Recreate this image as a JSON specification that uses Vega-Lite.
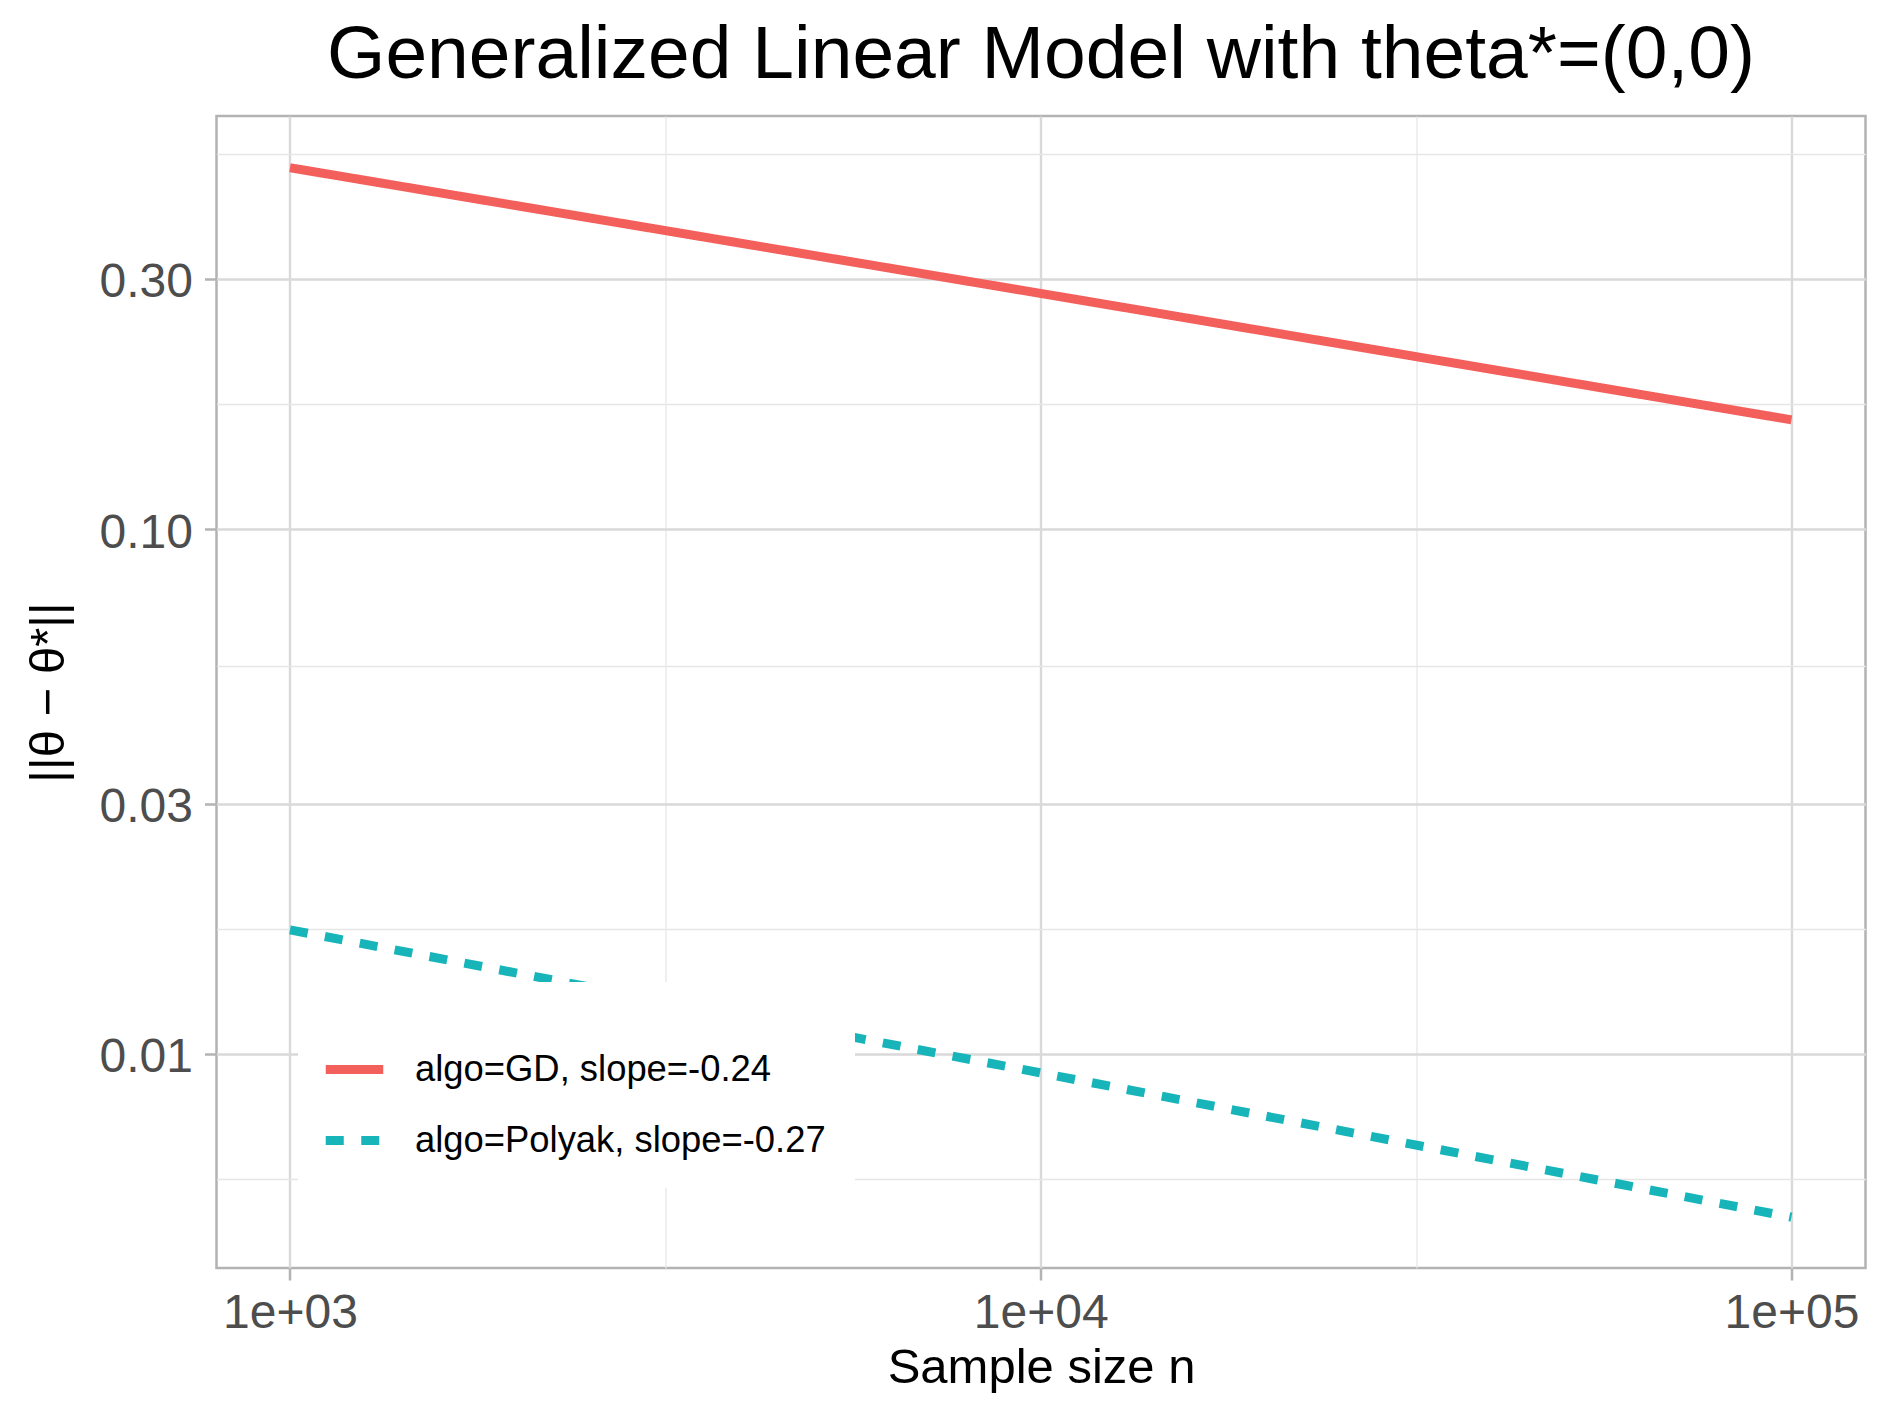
{
  "$schema": "https://vega.github.io/schema/vega-lite/v6.json",
  "width": 1649,
  "height": 1152,
  "autosize": "none",
  "padding": {"left": 216.5, "top": 116, "right": 23.5, "bottom": 149},
  "background": "white",
  "title": {
    "text": "Generalized Linear Model with theta*=(0,0)",
    "font": "Liberation Sans",
    "fontSize": 75,
    "fontWeight": "normal",
    "color": "black",
    "anchor": "middle",
    "frame": "group",
    "baseline": "alphabetic",
    "offset": 38,
    "dy": 75
  },
  "data": {
    "values": [
      {"n": 1000, "err": 0.4881, "algo": "algo=GD, slope=-0.24"},
      {"n": 10000, "err": 0.2812, "algo": "algo=GD, slope=-0.24"},
      {"n": 100000, "err": 0.1615, "algo": "algo=GD, slope=-0.24"},
      {"n": 1000, "err": 0.01723, "algo": "algo=Polyak, slope=-0.27"},
      {"n": 10000, "err": 0.0092, "algo": "algo=Polyak, slope=-0.27"},
      {"n": 100000, "err": 0.004885, "algo": "algo=Polyak, slope=-0.27"}
    ]
  },
  "mark": {"type": "line", "strokeWidth": 9, "strokeCap": "butt"},
  "encoding": {
    "x": {
      "field": "n",
      "type": "quantitative",
      "scale": {"type": "log", "domain": [798.2, 125500], "nice": false},
      "axis": {
        "title": "Sample size n",
        "values": [1000, 3162.28, 10000, 31622.8, 100000],
        "labelExpr": "datum.value == 1000 ? '1e+03' : datum.value == 10000 ? '1e+04' : datum.value == 100000 ? '1e+05' : ''",
        "labelPadding": 9,
        "labelOverlap": false,
        "labelFlush": false,
        "titleY": 114,
        "titleBaseline": "alphabetic",
        "gridColor": {"condition": {"test": "datum.value == 1000 || datum.value == 10000 || datum.value == 100000", "value": "#D9D9D9"}, "value": "#E6E6E6"},
        "gridWidth": {"condition": {"test": "datum.value == 1000 || datum.value == 10000 || datum.value == 100000", "value": 2.4}, "value": 1.3},
        "tickOpacity": {"condition": {"test": "datum.value == 1000 || datum.value == 10000 || datum.value == 100000", "value": 1}, "value": 0}
      }
    },
    "y": {
      "field": "err",
      "type": "quantitative",
      "scale": {"type": "log", "domain": [0.003909, 0.6125], "nice": false},
      "axis": {
        "title": "||θ − θ*||",
        "values": [0.005772, 0.01, 0.01732, 0.03, 0.05477, 0.1, 0.1732, 0.3, 0.5194],
        "labelExpr": "datum.value == 0.01 ? '0.01' : datum.value == 0.03 ? '0.03' : datum.value == 0.1 ? '0.10' : datum.value == 0.3 ? '0.30' : ''",
        "labelPadding": 12,
        "labelOffset": 4,
        "labelOverlap": false,
        "labelFlush": false,
        "titleAngle": 270,
        "titleX": -153,
        "titleY": 576,
        "titleAlign": "center",
        "titleBaseline": "alphabetic",
        "gridColor": {"condition": {"test": "datum.value == 0.01 || datum.value == 0.03 || datum.value == 0.1 || datum.value == 0.3", "value": "#D9D9D9"}, "value": "#E6E6E6"},
        "gridWidth": {"condition": {"test": "datum.value == 0.01 || datum.value == 0.03 || datum.value == 0.1 || datum.value == 0.3", "value": 2.4}, "value": 1.3},
        "tickOpacity": {"condition": {"test": "datum.value == 0.01 || datum.value == 0.03 || datum.value == 0.1 || datum.value == 0.3", "value": 1}, "value": 0}
      }
    },
    "color": {
      "field": "algo",
      "type": "nominal",
      "title": " ",
      "scale": {
        "domain": ["algo=GD, slope=-0.24", "algo=Polyak, slope=-0.27"],
        "range": ["#F35F5B", "#17B5B9"]
      }
    },
    "strokeDash": {
      "field": "algo",
      "type": "nominal",
      "title": " ",
      "scale": {
        "domain": ["algo=GD, slope=-0.24", "algo=Polyak, slope=-0.27"],
        "range": [[1, 0], [18, 17.5]]
      }
    }
  },
  "config": {
    "view": {"stroke": "#B3B3B3", "strokeWidth": 2.5},
    "axis": {
      "domain": false,
      "labelFont": "Liberation Sans",
      "titleFont": "Liberation Sans",
      "labelColor": "#4D4D4D",
      "titleColor": "black",
      "titleFontWeight": "normal",
      "labelFontSize": 48,
      "titleFontSize": 49,
      "tickColor": "#B3B3B3",
      "tickWidth": 2.5,
      "tickSize": 12
    },
    "legend": {
      "orient": "none",
      "legendX": 81.5,
      "legendY": 866,
      "padding": 29,
      "fillColor": "white",
      "titleFontSize": 15,
      "titlePadding": 10,
      "symbolType": "stroke",
      "symbolSize": 3306,
      "symbolStrokeWidth": 9,
      "symbolOffset": -6,
      "labelFont": "Liberation Sans",
      "labelFontSize": 36.4,
      "labelColor": "black",
      "labelOffset": 27,
      "labelLimit": 0,
      "rowPadding": 19
    }
  }
}
